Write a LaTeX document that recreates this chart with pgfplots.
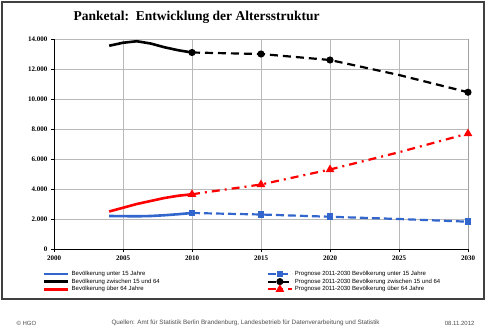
\documentclass[border=0pt]{standalone}
\usepackage{pgfplots}
\pgfplotsset{compat=1.18}
\usepackage{fontspec}
\setmainfont{Liberation Serif}
\setsansfont{Liberation Sans}
\definecolor{cblue}{RGB}{51,102,204}
\definecolor{cred}{RGB}{255,0,0}
\begin{document}
\begin{tikzpicture}
\useasboundingbox (0pt,0pt) rectangle (490pt,333pt);
\draw[line width=1.3pt, black!75] (2pt,34pt) rectangle (484pt,331pt);
\node[font=\bfseries\fontsize{13.5}{15}\selectfont, anchor=west] at (70pt,316pt) {Panketal:\ \ Entwicklung der Altersstruktur};
\begin{axis}[at={(54pt,84pt)}, anchor=south west, scale only axis,
  width=414pt, height=210pt,
  xmin=2000, xmax=2030, ymin=0, ymax=14000,
  xtick={2000,2005,...,2030}, ytick={0,2000,...,14000},
  scaled y ticks=false,
  axis x line*=bottom, axis y line*=left,
  axis line style={black, line width=0.9pt, -},
  grid=major, grid style={gray!55, line width=0.8pt},
  tick align=outside, major tick length=3pt, tick style={black, line width=0.6pt},
  tick label style={font=\bfseries\fontsize{7}{8}\selectfont},
  /pgf/number format/assume math mode=true,
  yticklabel style={/pgf/number format/1000 sep={.}},
  xticklabel style={/pgf/number format/1000 sep={}},
  legend style={at={(rel axis cs:-0.034,-0.085)}, anchor=north west, draw=none, fill=none,
    font=\sffamily\fontsize{6}{6.5}\selectfont, row sep=-2.2pt,
    /tikz/every even column/.append style={column sep=105pt}},
  legend columns=2, legend cell align=left,
  legend image code/.code={\draw[mark repeat=2,mark phase=2,#1] plot coordinates {(0pt,0pt)(12pt,0pt)(24pt,0pt)};},
]
\addplot[cblue, line width=2.6pt, no marks] coordinates {(2004,2200)(2005,2190)(2006,2180)(2007,2200)(2008,2250)(2009,2320)(2010,2400)};
\addlegendentry{Bevölkerung unter 15 Jahre}
\addplot[cblue, line width=2.2pt, dash pattern=on 8pt off 4pt, mark=square*, mark size=2.2pt, mark options={solid}, mark indices={1,2,3,5}, legend image post style={mark indices={2}}] coordinates {(2010,2400)(2015,2300)(2020,2150)(2025,2000)(2030,1820)};
\addlegendentry{Prognose 2011-2030 Bevölkerung unter 15 Jahre}
\addplot[black, line width=2.6pt, no marks] coordinates {(2004,13550)(2005,13750)(2006,13850)(2007,13700)(2008,13450)(2009,13250)(2010,13100)};
\addlegendentry{Bevölkerung zwischen 15 und 64}
\addplot[black, line width=2.2pt, dash pattern=on 8pt off 5pt, mark=*, mark size=2.4pt, mark options={solid}, mark indices={1,2,3,5}, legend image post style={mark indices={2}}] coordinates {(2010,13100)(2015,13000)(2020,12600)(2025,11600)(2030,10450)};
\addlegendentry{Prognose 2011-2030 Bevölkerung zwischen 15 und 64}
\addplot[cred, line width=2.6pt, no marks] coordinates {(2004,2500)(2005,2750)(2006,3000)(2007,3200)(2008,3400)(2009,3550)(2010,3650)};
\addlegendentry{Bevölkerung über 64 Jahre}
\addplot[cred, line width=2.2pt, dash pattern=on 8pt off 5pt on 2pt off 5pt, mark=triangle*, mark size=2.8pt, mark options={solid}, mark indices={1,2,3,5}, legend image post style={mark indices={2}}] coordinates {(2010,3650)(2015,4300)(2020,5300)(2025,6450)(2030,7700)};
\addlegendentry{Prognose 2011-2030 Bevölkerung über 64 Jahre}
\draw[black, line width=0.9pt] (rel axis cs:1,0) -- (rel axis cs:1,1);
\end{axis}
\node[font=\sffamily\fontsize{6}{7}\selectfont, anchor=west, gray!60!black] at (13pt,10pt) {© HGO};
\node[font=\sffamily\fontsize{6.3}{7}\selectfont, anchor=west, gray!60!black] at (108pt,10pt) {Quellen: Amt für Statistik Berlin Brandenburg, Landesbetrieb für Datenverarbeitung und Statistik};
\node[font=\sffamily\fontsize{6}{7}\selectfont, anchor=east, gray!60!black] at (478pt,10pt) {08.11.2012};
\end{tikzpicture}
\end{document}
